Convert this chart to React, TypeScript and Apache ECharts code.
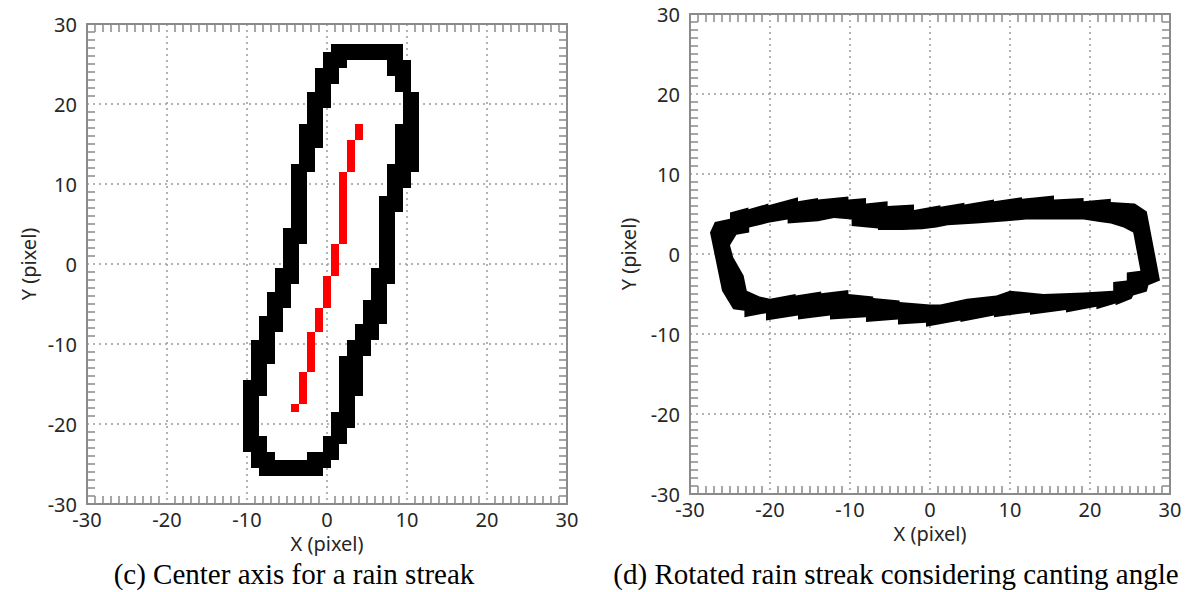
import React, { useEffect, useRef } from "react";
import * as echarts from "echarts";

const axisMin = -30;
const axisMax = 30;
const axisStep = 10;

const xAxisTitle = "X (pixel)";
const yAxisTitle = "Y (pixel)";
const captionLeft = "(c) Center axis for a rain streak";
const captionRight = "(d) Rotated rain streak considering canting angle";

// Streak outline, one entry per black run of pixels: [row y, first column x, last column x]
const streakRuns: [number, number, number][] = [
  [27, 1, 9],
  [26, 0, 9],
  [25, 0, 2], [25, 8, 10],
  [24, -1, 1], [24, 8, 10],
  [23, -1, 1], [23, 9, 10],
  [22, -1, 0], [22, 9, 10],
  [21, -2, 0], [21, 10, 11],
  [20, -2, 0], [20, 10, 11],
  [19, -2, -1], [19, 10, 11],
  [18, -2, -1], [18, 10, 11],
  [17, -3, -1], [17, 9, 11],
  [16, -3, -1], [16, 9, 11],
  [15, -3, -1], [15, 9, 11],
  [14, -3, -2], [14, 9, 11],
  [13, -3, -2], [13, 9, 11],
  [12, -4, -2], [12, 8, 11],
  [11, -4, -3], [11, 8, 10],
  [10, -4, -3], [10, 8, 10],
  [9, -4, -3], [9, 8, 9],
  [8, -4, -3], [8, 7, 9],
  [7, -4, -3], [7, 7, 9],
  [6, -4, -3], [6, 7, 8],
  [5, -4, -3], [5, 7, 8],
  [4, -5, -3], [4, 7, 8],
  [3, -5, -3], [3, 7, 8],
  [2, -5, -4], [2, 7, 8],
  [1, -5, -4], [1, 7, 8],
  [0, -5, -4], [0, 7, 8],
  [-1, -6, -4], [-1, 6, 8],
  [-2, -6, -4], [-2, 6, 8],
  [-3, -6, -5], [-3, 6, 7],
  [-4, -7, -5], [-4, 6, 7],
  [-5, -7, -5], [-5, 5, 7],
  [-6, -7, -6], [-6, 5, 7],
  [-7, -8, -6], [-7, 5, 7],
  [-8, -8, -6], [-8, 4, 6],
  [-9, -8, -7], [-9, 4, 6],
  [-10, -9, -7], [-10, 3, 5],
  [-11, -9, -7], [-11, 3, 5],
  [-12, -9, -7], [-12, 2, 4],
  [-13, -9, -8], [-13, 2, 4],
  [-14, -9, -8], [-14, 2, 4],
  [-15, -10, -8], [-15, 2, 4],
  [-16, -10, -8], [-16, 2, 4],
  [-17, -10, -9], [-17, 2, 3],
  [-18, -10, -9], [-18, 2, 3],
  [-19, -10, -9], [-19, 1, 3],
  [-20, -10, -9], [-20, 1, 3],
  [-21, -10, -9], [-21, 1, 2],
  [-22, -10, -8], [-22, 0, 2],
  [-23, -10, -8], [-23, 0, 1],
  [-24, -9, -7], [-24, -2, 1],
  [-25, -9, 0],
  [-26, -8, -1],
];

// Red centre axis, one entry per vertical run: [column x, bottom row y, top row y]
const centerAxisRuns: [number, number, number][] = [
  [4, 16, 17],
  [3, 12, 15],
  [2, 3, 11],
  [1, -1, 2],
  [0, -5, -2],
  [-1, -8, -6],
  [-2, -13, -9],
  [-3, -17, -14],
  [-4, -18, -18],
];

// Rotated streak, outer boundary: upper edge (left to right)
const outerUpper: [number, number][] = [
  [-27.5, 2.7], [-26.9, 4.0], [-25.0, 4.4],
  [-25.0, 5.2], [-22.7, 5.8],
  [-22.7, 5.6], [-20.2, 6.3],
  [-20.2, 6.1], [-16.5, 7.1],
  [-16.5, 6.6], [-14.0, 7.0],
  [-14.0, 6.8], [-10.2, 7.2],
  [-10.2, 6.8], [-8.0, 7.0],
  [-8.0, 6.3], [-5.3, 6.6],
  [-5.3, 6.0], [-2.0, 6.2],
  [-2.0, 5.5], [1.3, 6.1],
  [1.3, 5.9], [4.3, 6.4],
  [4.3, 6.2], [8.0, 6.8],
  [8.0, 6.6], [11.5, 7.1],
  [11.5, 6.9], [15.5, 7.3],
  [15.5, 6.8], [19.2, 7.0],
  [19.2, 6.6], [22.6, 6.9],
  [22.6, 6.5], [25.6, 6.3],
  [27.1, 5.3], [28.75, -3.3],
];

// Rotated streak, outer boundary: lower edge (left to right)
const outerLower: [number, number][] = [
  [-26.0, -4.6], [-24.6, -6.9], [-23.2, -7.1],
  [-23.2, -7.9], [-20.5, -7.4],
  [-20.5, -8.3], [-16.5, -7.7],
  [-16.5, -8.2], [-12.5, -7.7],
  [-12.5, -8.2], [-8.0, -7.9],
  [-8.0, -8.5], [-4.0, -8.2],
  [-4.0, -8.8], [-0.5, -8.6],
  [-0.5, -9.1], [3.8, -8.3],
  [3.8, -8.5], [8.0, -7.7],
  [8.0, -7.9], [12.5, -7.3],
  [12.5, -7.6], [17.0, -7.0],
  [17.0, -7.3], [20.8, -6.6],
  [20.8, -6.9], [23.2, -6.2],
  [23.2, -6.4], [25.2, -5.6],
  [25.4, -5.2], [27.1, -4.7], [27.3, -3.9],
];

// Rotated streak, inner boundary: upper edge (left to right)
const innerUpper: [number, number][] = [
  [-25.0, 1.1], [-24.2, 2.4], [-22.6, 2.7], [-22.6, 3.3], [-20.2, 3.9],
  [-17.8, 4.3], [-17.8, 3.8], [-14.0, 4.1], [-12.0, 4.5], [-9.8, 4.3],
  [-9.8, 3.5], [-6.5, 3.2], [-6.5, 3.0], [-3.4, 3.0], [-1.0, 3.1],
  [0.8, 3.3], [2.2, 3.6], [5.8, 3.8], [9.6, 4.1], [12.0, 4.3],
  [15.0, 4.3], [19.2, 4.3], [21.2, 4.0], [22.6, 3.8], [24.2, 3.3],
  [25.4, 2.7], [26.3, -2.1],
];

// Rotated streak, inner boundary: lower edge (left to right)
const innerLower: [number, number][] = [
  [-24.6, -0.4], [-23.3, -2.7], [-22.9, -4.6], [-21.3, -5.3], [-20.0, -5.6],
  [-16.8, -5.0], [-16.8, -5.2], [-13.6, -4.7], [-13.6, -4.9], [-10.2, -4.5],
  [-10.2, -5.0], [-7.1, -5.3], [-7.1, -5.5], [-3.8, -5.8], [-3.8, -6.0],
  [0.0, -6.3], [1.3, -6.3], [4.6, -5.6], [8.3, -5.2], [10.0, -4.6],
  [14.2, -5.0], [19.2, -4.8], [22.9, -4.6], [22.9, -3.5], [24.6, -3.3],
  [24.6, -2.3],
];

const frameColor = "#8a8a8a";
const textColor = "#262626";
const labelFont = "Noto Sans";

function baseAxis(extra: Record<string, unknown>) {
  return {
    type: "value",
    min: axisMin,
    max: axisMax,
    interval: axisStep,
    axisLine: { show: true, onZero: false, lineStyle: { color: frameColor, width: 2 } },
    axisTick: { show: false, inside: true },
    minorTick: { show: true, splitNumber: 10, length: 8, lineStyle: { color: frameColor, width: 1.5 } },
    splitLine: { show: false },
    axisLabel: { show: false },
    ...extra,
  };
}

const gridLines = { show: true, lineStyle: { color: "#9a9a9a", width: 1.5, type: [2, 4] } };
const labelStyle = { fontSize: 20, color: textColor, fontFamily: labelFont };
const nameStyle = { fontSize: 20, color: textColor, fontFamily: labelFont };
const captionFont = "29px 'Liberation Serif', 'Times New Roman', serif";

function signedArea(pts: number[][]) {
  let s = 0;
  for (let i = 0; i < pts.length; i++) {
    const a = pts[i];
    const b = pts[(i + 1) % pts.length];
    s += a[0] * b[1] - b[0] * a[1];
  }
  return s / 2;
}

function ringPath(pts: number[][]) {
  return pts.map((p, i) => (i ? "L" : "M") + p[0].toFixed(2) + " " + p[1].toFixed(2)).join(" ") + " Z ";
}

export default function App() {
  const ref = useRef<HTMLDivElement>(null);

  useEffect(() => {
    if (!ref.current) return;
    const chart = echarts.init(ref.current, undefined, { renderer: "svg" });

    const option = {
      animation: false,
      backgroundColor: "#ffffff",
      grid: [
        { left: 87, top: 24, width: 480, height: 480 },
        { left: 690, top: 14, width: 480, height: 480 },
      ],
      xAxis: [
        baseAxis({
          gridIndex: 0, position: "bottom", splitLine: gridLines,
          axisLabel: { show: true, margin: 5, ...labelStyle },
          name: xAxisTitle, nameLocation: "middle", nameGap: 22, nameTextStyle: nameStyle,
        }),
        baseAxis({ gridIndex: 0, position: "top" }),
        baseAxis({
          gridIndex: 1, position: "bottom", splitLine: gridLines,
          axisLabel: { show: true, margin: 5, ...labelStyle },
          name: xAxisTitle, nameLocation: "middle", nameGap: 25, nameTextStyle: nameStyle,
        }),
        baseAxis({ gridIndex: 1, position: "top" }),
      ],
      yAxis: [
        baseAxis({
          gridIndex: 0, position: "left", splitLine: gridLines,
          axisLabel: { show: true, margin: 10, ...labelStyle },
          name: yAxisTitle, nameLocation: "middle", nameGap: 49, nameTextStyle: nameStyle,
        }),
        baseAxis({ gridIndex: 0, position: "right" }),
        baseAxis({
          gridIndex: 1, position: "left", splitLine: gridLines,
          axisLabel: { show: true, margin: 10, ...labelStyle },
          name: yAxisTitle, nameLocation: "middle", nameGap: 52, nameTextStyle: nameStyle,
        }),
        baseAxis({ gridIndex: 1, position: "right" }),
      ],
      series: [
        {
          type: "custom",
          name: "outline",
          xAxisIndex: 0,
          yAxisIndex: 0,
          silent: true,
          data: streakRuns,
          renderItem: (_params: unknown, api: any) => {
            const y = api.value(0);
            const x0 = api.value(1);
            const x1 = api.value(2);
            const p0 = api.coord([x0 - 0.5, y + 0.5]);
            const p1 = api.coord([x1 + 0.5, y - 0.5]);
            return {
              type: "rect",
              shape: { x: p0[0], y: p0[1], width: p1[0] - p0[0], height: p1[1] - p0[1] },
              style: { fill: "#000000" },
            };
          },
        },
        {
          type: "custom",
          name: "center axis",
          xAxisIndex: 0,
          yAxisIndex: 0,
          silent: true,
          z: 3,
          data: centerAxisRuns,
          renderItem: (_params: unknown, api: any) => {
            const x = api.value(0);
            const y0 = api.value(1);
            const y1 = api.value(2);
            const p0 = api.coord([x - 0.5, y1 + 0.5]);
            const p1 = api.coord([x + 0.5, y0 - 0.5]);
            return {
              type: "rect",
              shape: { x: p0[0], y: p0[1], width: p1[0] - p0[0], height: p1[1] - p0[1] },
              style: { fill: "#ff0000" },
            };
          },
        },
        {
          type: "custom",
          name: "rotated streak",
          xAxisIndex: 2,
          yAxisIndex: 2,
          silent: true,
          data: [[0, 0]],
          renderItem: (_params: unknown, api: any) => {
            const outerRing = outerUpper.concat(outerLower.slice().reverse());
            const innerRing = innerUpper.concat(innerLower.slice().reverse());
            const outer = outerRing.map((p) => api.coord(p));
            let inner = innerRing.map((p) => api.coord(p));
            if (Math.sign(signedArea(outer)) === Math.sign(signedArea(inner))) {
              inner = inner.slice().reverse();
            }
            return {
              type: "path",
              shape: { pathData: ringPath(outer) + ringPath(inner) },
              style: { fill: "#000000" },
            };
          },
        },
      ],
      graphic: [
        {
          type: "text",
          x: 294,
          y: 574,
          style: {
            text: captionLeft,
            font: captionFont,
            fill: "#000000",
            align: "center",
            verticalAlign: "middle",
          },
        },
        {
          type: "text",
          x: 896,
          y: 574,
          style: {
            text: captionRight,
            font: captionFont,
            fill: "#000000",
            align: "center",
            verticalAlign: "middle",
          },
        },
      ],
    };

    chart.setOption(option as any);
    return () => chart.dispose();
  }, []);

  return (
    <div
      ref={ref}
      style={{ position: "fixed", left: 0, top: 0, width: 1190, height: 592, background: "#ffffff" }}
    />
  );
}
